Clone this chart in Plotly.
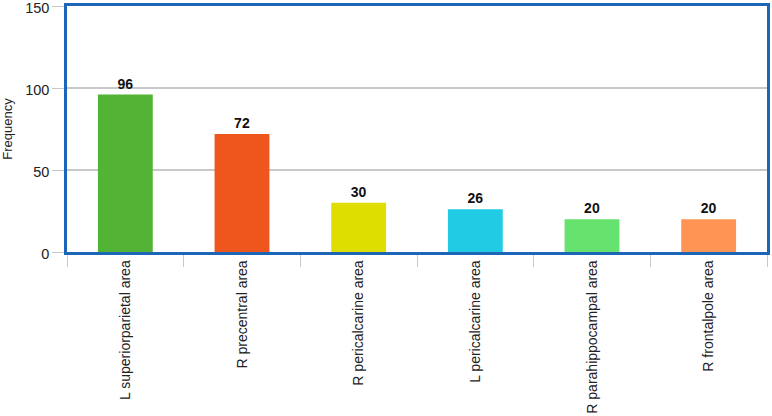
import plotly.graph_objects as go

regions = ["L superiorparietal area", "R precentral area", "R pericalcarine area",
           "L pericalcarine area", "R parahippocampal area", "R frontalpole area"]
frequency = [96, 72, 30, 26, 20, 20]
bar_colors = ["#52b335", "#ee561e", "#dede00", "#22cbe4", "#66e26e", "#ff9455"]

fig = go.Figure(go.Bar(
    x=regions,
    y=frequency,
    marker=dict(color=bar_colors, line=dict(width=0)),
    text=[str(v) for v in frequency],
    textposition="outside",
    textfont=dict(family="Liberation Sans, Arial", size=14, color="#111111", weight="bold"),
    cliponaxis=False,
))

fig.update_layout(
    width=772, height=416,
    margin=dict(l=67, r=5, t=6, b=164, autoexpand=False),
    paper_bgcolor="white", plot_bgcolor="white",
    showlegend=False,
    bargap=0.53,
    font=dict(family="Liberation Sans, Arial", color="#222222"),
)
fig.update_xaxes(
    automargin=False,
    showline=True, mirror=True, linecolor="#1b66b6", linewidth=2.5,
    ticks="outside", tickson="boundaries", ticklen=12, tickcolor="#c8c8c8",
    tickangle=-90, tickfont=dict(size=14),
    showgrid=False,
)
fig.update_yaxes(
    automargin=False,
    range=[0, 150], tickvals=[0, 50, 100, 150],
    showline=True, mirror=True, linecolor="#1b66b6", linewidth=2.5,
    ticks="outside", ticklen=12, tickcolor="#c8c8c8",
    showgrid=True, gridcolor="#c8c8c8", gridwidth=1.5,
    zeroline=False,
    tickfont=dict(size=14.5),
    ticklabeloverflow="allow",
    ticklabelshift=2,
    title=dict(text="Frequency", font=dict(size=13), standoff=12),
)

# the page body has a default 8px margin; drop it so the figure sits at the corner
fig.write_html("out.html", config={"displayModeBar": False},
               post_script="document.body.style.margin='0';")
